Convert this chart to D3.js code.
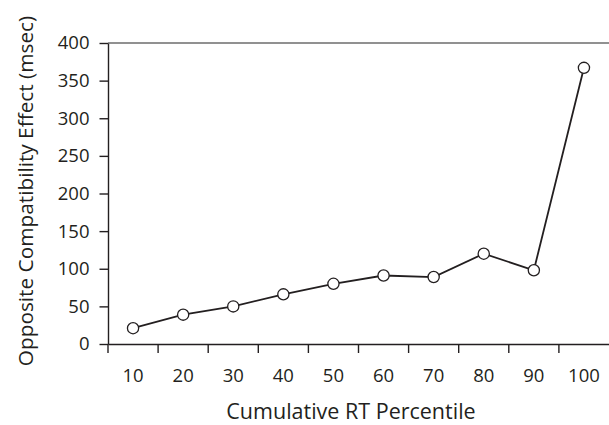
<!DOCTYPE html>
<html>
<head>
<meta charset="utf-8">
<script src="https://cdn.jsdelivr.net/npm/d3@7"></script>
<style>
  body { margin: 0; background: #fff; }
  svg text { font-family: "Open Sans", "Noto Sans", sans-serif; fill: #231f20; }
</style>
</head>
<body>
<svg id="chart"></svg>
<script>
// data
const percentiles = [10, 20, 30, 40, 50, 60, 70, 80, 90, 100];
const effects = [21, 39, 50, 66, 80, 91, 89, 120, 98, 367];
const yTicks = [0, 50, 100, 150, 200, 250, 300, 350, 400];

const width = 609, height = 425;
const margin = {top: 43, right: 0, bottom: 81, left: 108};

const svg = d3.select('#chart')
    .attr('width', width)
    .attr('height', height);

const x = d3.scaleBand()
    .domain(percentiles)
    .range([margin.left, width - margin.right]);

const y = d3.scaleLinear()
    .domain([0, 400])
    .range([height - margin.bottom, margin.top]);

const ink = '#231f20';

// top frame line
svg.append('line')
    .attr('x1', margin.left).attr('x2', width)
    .attr('y1', y(400)).attr('y2', y(400))
    .attr('stroke', '#6d6d6d')
    .attr('stroke-width', 1.6);

// y axis
const yAxis = svg.append('g')
    .attr('transform', `translate(${margin.left},0)`)
    .call(d3.axisLeft(y).tickValues(yTicks).tickSize(8.5).tickPadding(10).tickSizeOuter(0));
yAxis.select('.domain').attr('stroke', ink).attr('stroke-width', 1.4);
yAxis.selectAll('.tick line').attr('stroke', ink).attr('stroke-width', 1.4);
yAxis.selectAll('.tick text')
    .style('font-size', '18.5px')
    .attr('fill', ink);

// x axis: labels centred in bands, ticks on band edges
const xAxis = svg.append('g')
    .attr('transform', `translate(0,${y(0)})`)
    .call(d3.axisBottom(x).tickSize(0).tickPadding(25));
xAxis.select('.domain').attr('stroke', ink).attr('stroke-width', 1.4);
xAxis.selectAll('.tick text')
    .style('font-size', '18.5px')
    .attr('fill', ink);

svg.append('g')
    .selectAll('line')
    .data(percentiles)
    .enter().append('line')
    .attr('x1', d => x(d)).attr('x2', d => x(d))
    .attr('y1', y(0)).attr('y2', y(0) + 9)
    .attr('stroke', ink)
    .attr('stroke-width', 1.4);

// series
const points = percentiles.map((p, i) => ({p: p, v: effects[i]}));
const line = d3.line()
    .x(d => x(d.p) + x.bandwidth() / 2)
    .y(d => y(d.v));

svg.append('path')
    .datum(points)
    .attr('d', line)
    .attr('fill', 'none')
    .attr('stroke', ink)
    .attr('stroke-width', 1.8);

svg.append('g')
    .selectAll('circle')
    .data(points)
    .enter().append('circle')
    .attr('cx', d => x(d.p) + x.bandwidth() / 2)
    .attr('cy', d => y(d.v))
    .attr('r', 5.6)
    .attr('fill', '#fff')
    .attr('stroke', ink)
    .attr('stroke-width', 1.3);

// axis titles
svg.append('text')
    .attr('x', 351)
    .attr('y', 419)
    .attr('text-anchor', 'middle')
    .style('font-size', '21.5px')
    .text('Cumulative RT Percentile');

svg.append('text')
    .attr('transform', 'translate(33,191) rotate(-90)')
    .attr('text-anchor', 'middle')
    .style('font-size', '20.8px')
    .text('Opposite Compatibility Effect (msec)');
</script>
</body>
</html>
